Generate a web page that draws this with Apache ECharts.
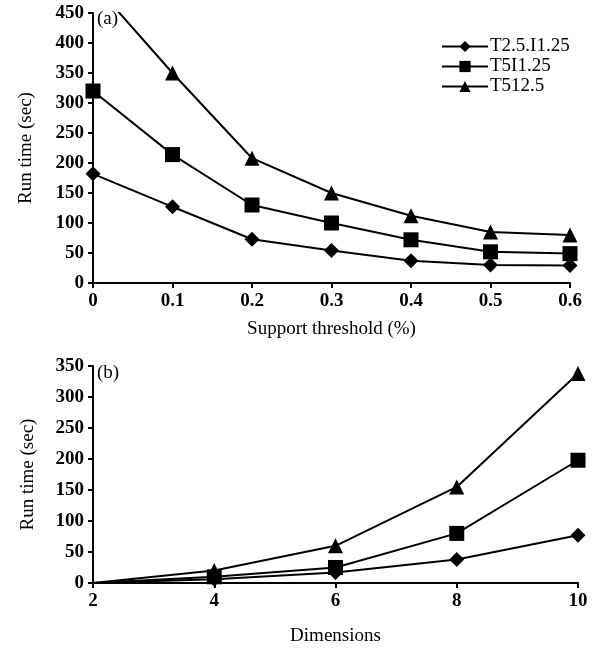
<!DOCTYPE html>
<html lang="en">
  <head>
    <meta charset="UTF-8" />
    <title>Run time</title>
    <script src="https://cdn.jsdelivr.net/npm/echarts@6/dist/echarts.min.js"></script>
  </head>
  <style type="text/css">
    body { margin: 0; background: #fff; }
    #main { width: 596px; height: 650px; }
  </style>
  <body>
    <div id="main"></div>
    <script>
      // (a) support threshold
      var thresholds = [0, 0.1, 0.2, 0.3, 0.4, 0.5, 0.6];
      var aT25 = [182, 127, 73, 54, 37, 30, 29];
      var aT5 = [320, 214, 130, 100, 72, 52, 49];
      var aT512 = [500, 350, 208, 150, 112, 85, 80];
      // (b) dimensions
      var dims = [2, 4, 6, 8, 10];
      var bT25 = [0, 6, 17, 38, 77];
      var bT5 = [0, 10, 25, 80, 198];
      var bT512 = [0, 20, 60, 155, 338];

      var names = ["T2.5.I1.25", "T5I1.25", "T512.5"];
      var symbols = ["diamond", "rect", "triangle"];
      var sizes = [15, 15, 15];
      var font = "Liberation Serif";

      // hideFirst: the (b) panel draws no marker at the origin
      function pairs(xs, ys, hideFirst) {
        return xs.map(function (x, i) {
          if (hideFirst && i === 0) return { value: [x, ys[i]], symbol: "none" };
          return [x, ys[i]];
        });
      }

      function mkSeries(idx, xs, ys, grid) {
        return {
          name: names[idx],
          type: "line",
          xAxisIndex: grid,
          yAxisIndex: grid,
          data: pairs(xs, ys, grid === 1),
          symbol: symbols[idx],
          symbolSize: sizes[idx],
          showAllSymbol: true,
          clip: true,
          lineStyle: { color: "#000", width: 2 },
          itemStyle: { color: "#000" },
          animation: false
        };
      }

      function axisCommon() {
        return {
          axisLine: { lineStyle: { color: "#000", width: 2 } },
          axisTick: { lineStyle: { color: "#000", width: 2 }, length: 5 },
          axisLabel: { color: "#000", fontFamily: font, fontSize: 19, fontWeight: "bold", margin: 9 },
          splitLine: { show: false },
          nameTextStyle: { color: "#000", fontFamily: font, fontSize: 19 }
        };
      }

      var myChart = echarts.init(document.getElementById("main"));
      var option = {
        animation: false,
        grid: [
          { left: 93, right: 26, top: 13, height: 270 },
          { left: 93, right: 18, top: 366, height: 217 }
        ],
        legend: {
          data: names,
          left: 436,
          top: 32,
          orient: "vertical",
          itemWidth: 46,
          itemHeight: 14,
          itemGap: 1,
          textStyle: { color: "#000", fontFamily: font, fontSize: 19, lineHeight: 18, padding: [0, 0, 0, -3] }
        },
        graphic: [
          { type: "text", left: 97, top: 10, style: { text: "(a)", font: "19px Liberation Serif", fill: "#000" } },
          { type: "text", left: 97, top: 364, style: { text: "(b)", font: "19px Liberation Serif", fill: "#000" } }
        ],
        xAxis: [
          Object.assign(axisCommon(), {
            type: "value", gridIndex: 0, min: 0, max: 0.6, interval: 0.1,
            name: "Support threshold (%)", nameLocation: "middle", nameGap: 37,
            axisLabel: Object.assign(axisCommon().axisLabel, {
              formatter: function (v) { return String(Math.round(v * 10) / 10); }
            })
          }),
          Object.assign(axisCommon(), {
            type: "value", gridIndex: 1, min: 2, max: 10, interval: 2,
            name: "Dimensions", nameLocation: "middle", nameGap: 44
          })
        ],
        yAxis: [
          Object.assign(axisCommon(), {
            type: "value", gridIndex: 0, min: 0, max: 450, interval: 50,
            name: "Run time (sec)", nameLocation: "middle", nameGap: 57
          }),
          Object.assign(axisCommon(), {
            type: "value", gridIndex: 1, min: 0, max: 350, interval: 50,
            name: "Run time (sec)", nameLocation: "middle", nameGap: 55
          })
        ],
        series: [
          mkSeries(0, thresholds, aT25, 0),
          mkSeries(1, thresholds, aT5, 0),
          mkSeries(2, thresholds, aT512, 0),
          mkSeries(0, dims, bT25, 1),
          mkSeries(1, dims, bT5, 1),
          mkSeries(2, dims, bT512, 1)
        ]
      };
      myChart.setOption(option);
    </script>
  </body>
</html>
